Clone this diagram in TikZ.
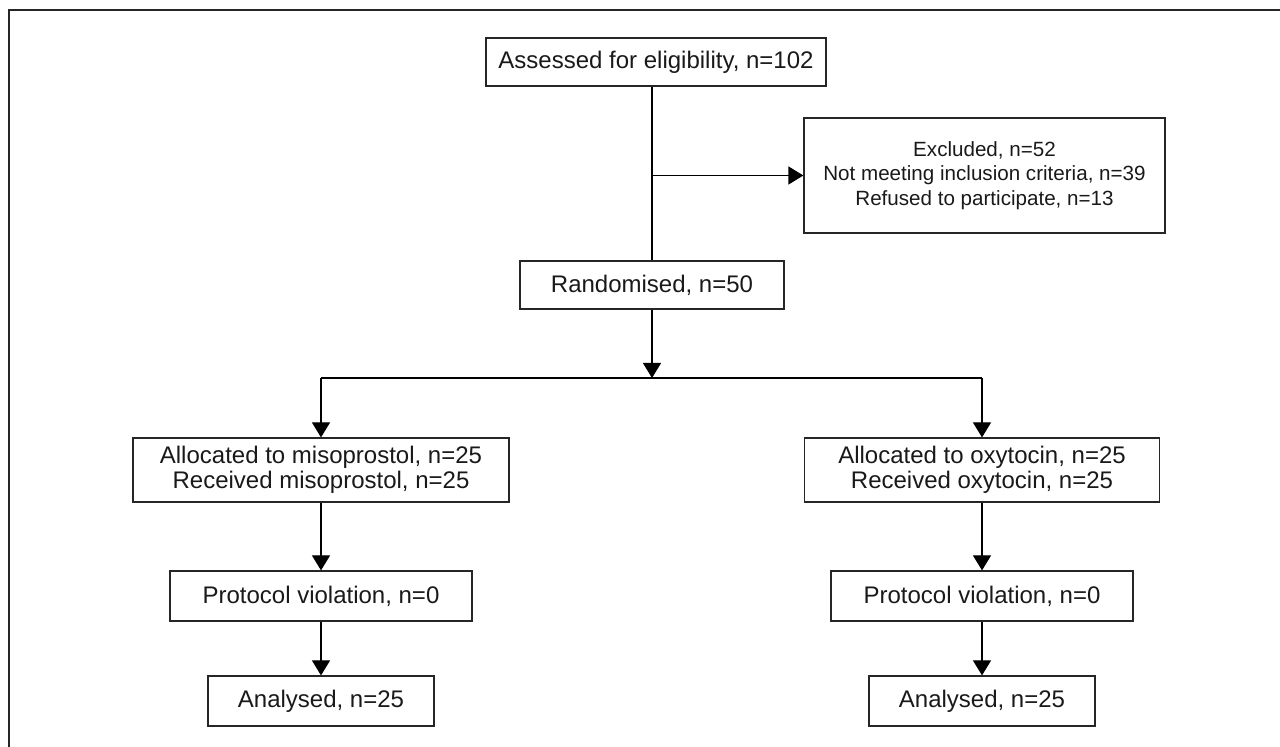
\documentclass[tikz,border=0pt]{standalone}
\usepackage{fontspec}
\setmainfont{Liberation Sans}
\usetikzlibrary{arrows.meta}
\begin{document}
\begin{tikzpicture}[x=0.5pt,y=-0.5pt,line width=0.6pt,
	box/.style={draw=black!85,align=center,inner sep=0pt,text=black!90,font=\fontsize{12}{12.5}\selectfont},
	arr/.style={-{Triangle[length=7.5pt,width=9pt]}}]
	\useasboundingbox (0,0) rectangle (1280,747);
	\draw[black!85,line width=0.8pt] (9,747) -- (9,10) -- (1280,10);
	\node[box,minimum width=170pt,minimum height=24pt] (assess) at (656,62) {Assessed for eligibility, n=102};
	\node[box,minimum width=132pt,minimum height=24pt] (rand) at (652,285) {Randomised, n=50};
	\node[box,minimum width=180.5pt,minimum height=57.5pt,font=\fontsize{10.3}{12.4}\selectfont] (excl) at (984.5,175.5) {Excluded, n=52\\Not meeting inclusion criteria, n=39\\Refused to participate, n=13};
	\coordinate (split) at (652,378);
	\draw (rand.north |- assess.south) -- (rand.north);
	\draw[arr] (rand.north |- excl.west) -- (excl.west);
	\draw[arr] (rand.south) -- (split);
	\foreach \s/\x/\drug/\w in {L/321/misoprostol/188,R/982/oxytocin/177.5}{
		\node[box,minimum width=\w pt,minimum height=32pt] (alloc\s) at (\x,470) {Allocated to \drug, n=25\\Received \drug, n=25};
		\node[box,minimum width=151pt,minimum height=25pt] (prot\s) at (\x,596) {Protocol violation, n=0};
		\node[box,minimum width=113pt,minimum height=25pt] (anal\s) at (\x,701) {Analysed, n=25};
		\draw[arr] (split -| alloc\s.north) -- (alloc\s.north);
		\draw[arr] (alloc\s.south) -- (prot\s.north);
		\draw[arr] (prot\s.south) -- (anal\s.north);
	}
	\draw (split -| allocL.north) -- (split -| allocR.north);
\end{tikzpicture}
\end{document}
